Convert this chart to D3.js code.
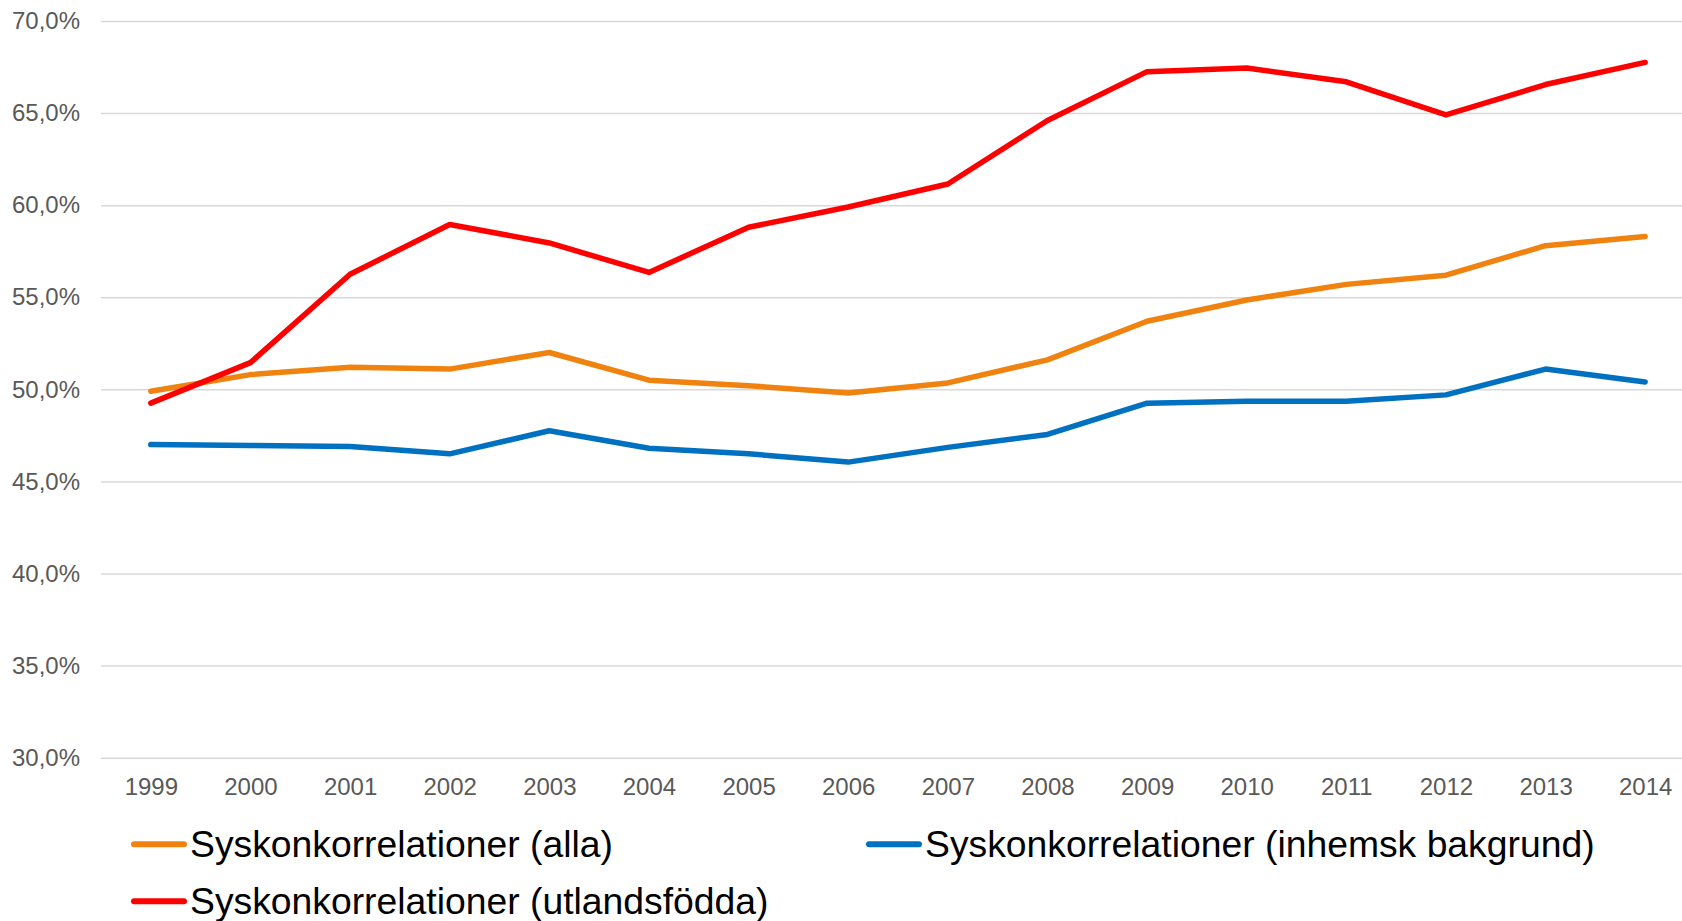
<!DOCTYPE html>
<html>
<head>
<meta charset="utf-8">
<script src="https://cdn.jsdelivr.net/npm/d3@7"></script>
<style>
  body { margin: 0; background: #fff; }
  svg { display: block; font-family: "Liberation Sans", Arial, sans-serif; }
</style>
</head>
<body>
<svg width="1682" height="921"></svg>
<script>
var years = ["1999","2000","2001","2002","2003","2004","2005","2006","2007","2008","2009","2010","2011","2012","2013","2014"];

var alla = [49.9, 50.8, 51.2, 51.1, 52.0, 50.5, 50.2, 49.8, 50.35, 51.6, 53.7, 54.85, 55.7, 56.2, 57.8, 58.3];
var inhemsk = [47.0, 46.95, 46.9, 46.5, 47.75, 46.8, 46.5, 46.05, 46.85, 47.55, 49.25, 49.35, 49.35, 49.7, 51.1, 50.4];
var utlandsfodda = [49.25, 51.45, 56.25, 58.95, 57.95, 56.35, 58.8, 59.9, 61.15, 64.6, 67.25, 67.45, 66.7, 64.9, 66.55, 67.75];

var yTicks = [30, 35, 40, 45, 50, 55, 60, 65, 70];

var series = [
  { name: "Syskonkorrelationer (alla)", values: alla, color: "#f0820f" },
  { name: "Syskonkorrelationer (inhemsk bakgrund)", values: inhemsk, color: "#0070c0" },
  { name: "Syskonkorrelationer (utlandsfödda)", values: utlandsfodda, color: "#ff0000" }
];

var svg = d3.select("svg"),
    width = 1682,
    height = 921;

var plotLeft = 101, plotRight = 1695, plotTop = 21, plotBottom = 757.7;

var x = d3.scalePoint().domain(years).range([plotLeft, plotRight]).padding(0.5);
var y = d3.scaleLinear().domain([30, 70]).range([plotBottom, plotTop]);

var sv = d3.formatLocale({ decimal: ",", thousands: " ", grouping: [3], currency: ["", " kr"] });
var pct = function(d) { return sv.format(".1f")(d) + "%"; };

// gridlines + y labels
var yAxis = svg.append("g")
    .attr("transform", "translate(" + plotLeft + ",0)")
    .call(d3.axisLeft(y).tickValues(yTicks).tickFormat(pct).tickSize(-(width - plotLeft)).tickPadding(21));
yAxis.select(".domain").remove();
yAxis.selectAll(".tick line").attr("stroke", "#d9d9d9").attr("stroke-width", 1.5);
yAxis.selectAll(".tick text")
    .attr("fill", "#595959")
    .style("font-size", "24px")
    .style("font-family", "'Liberation Sans', Arial, sans-serif");

// x labels
var xAxis = svg.append("g")
    .attr("transform", "translate(0," + plotBottom + ")")
    .call(d3.axisBottom(x).tickSize(0).tickPadding(20));
xAxis.select(".domain").remove();
xAxis.selectAll(".tick text")
    .attr("fill", "#595959")
    .style("font-size", "24px")
    .style("font-family", "'Liberation Sans', Arial, sans-serif");

var line = d3.line()
    .x(function(d, i) { return x(years[i]); })
    .y(function(d) { return y(d); });

svg.append("g").selectAll("path")
    .data(series)
    .enter().append("path")
    .attr("d", function(d) { return line(d.values); })
    .attr("fill", "none")
    .attr("stroke", function(d) { return d.color; })
    .attr("stroke-width", 5.5)
    .attr("stroke-linejoin", "round")
    .attr("stroke-linecap", "round");

// legend
var legendPos = [
  { x: 131, y: 856.5 },
  { x: 866, y: 856.5 },
  { x: 131, y: 913.5 }
];

var legend = svg.append("g").selectAll("g")
    .data(series)
    .enter().append("g")
    .attr("transform", function(d, i) { return "translate(" + legendPos[i].x + "," + legendPos[i].y + ")"; });

legend.append("line")
    .attr("x1", 3).attr("x2", 53)
    .attr("y1", -12.3).attr("y2", -12.3)
    .attr("stroke", function(d) { return d.color; })
    .attr("stroke-width", 6)
    .attr("stroke-linecap", "round");

legend.append("text")
    .attr("x", 59)
    .attr("fill", "#000")
    .style("font-size", "37.3px")
    .text(function(d) { return d.name; });
</script>
</body>
</html>
